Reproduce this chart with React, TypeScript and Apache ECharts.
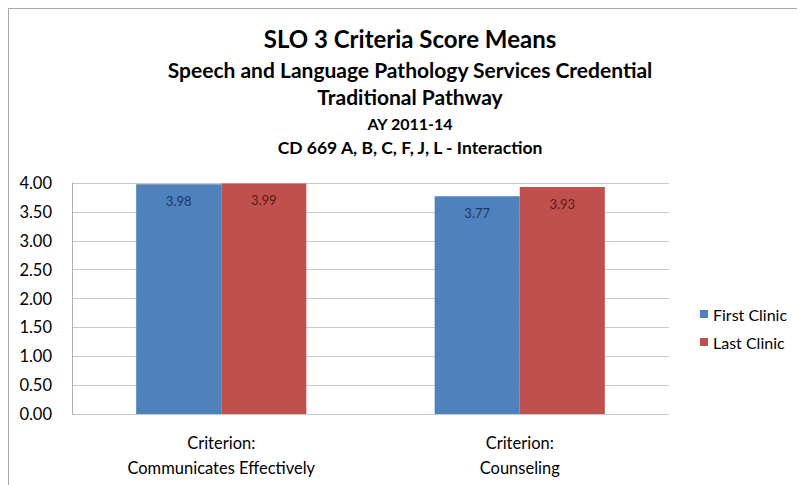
import React, { useEffect, useRef } from "react";
import * as echarts from "echarts";

const categories = ["Criterion:\nCommunicates Effectively", "Criterion:\nCounseling"];
const firstClinic = [3.98, 3.77];
const lastClinic = [3.99, 3.93];
const seriesNames = ["First Clinic", "Last Clinic"];
const titleLines = [
  "SLO 3 Criteria Score Means",
  "Speech and Language Pathology Services Credential",
  "Traditional Pathway",
  "AY 2011-14",
  "CD 669 A, B, C, F, J, L - Interaction",
];

const FONT = "Lato, 'Open Sans', sans-serif";

export default function App() {
  const ref = useRef<HTMLDivElement>(null);
  useEffect(() => {
    if (!ref.current) return;
    const chart = echarts.init(ref.current, undefined, { renderer: "svg" });
    const titleStyle = [
      { y: 30, size: 24 },
      { y: 61, size: 21 },
      { y: 88, size: 21 },
      { y: 115, size: 16 },
      { y: 139, size: 17.5 },
    ];
    chart.setOption({
      animation: false,
      backgroundColor: "#ffffff",
      textStyle: { fontFamily: FONT },
      graphic: [
        {
          type: "line",
          shape: { x1: 0.5, y1: 0.5, x2: 797, y2: 0.5 },
          style: { stroke: "#a8a8a8", lineWidth: 1 },
          silent: true,
        },
        {
          type: "line",
          shape: { x1: 0.5, y1: 0.5, x2: 0.5, y2: 477 },
          style: { stroke: "#a8a8a8", lineWidth: 1 },
          silent: true,
        },
        ...titleLines.map((t, i) => ({
          type: "text",
          x: 402,
          y: titleStyle[i].y,
          style: {
            text: t,
            fontFamily: FONT,
            fontWeight: "bold",
            fontSize: titleStyle[i].size,
            fill: "#000",
            textAlign: "center",
            textVerticalAlign: "middle",
          },
        })),
      ],
      legend: {
        orient: "vertical",
        left: 687,
        top: 293,
        itemWidth: 8,
        itemHeight: 8,
        itemGap: 12,
        icon: "rect",
        textStyle: { fontFamily: FONT, fontSize: 16, color: "#000" },
        data: seriesNames,
      },
      grid: { left: 64, right: 136, top: 175, bottom: 71 },
      xAxis: {
        type: "category",
        data: categories,
        axisTick: { show: false },
        axisLine: { show: false },
        axisLabel: {
          fontFamily: FONT,
          fontSize: 16.5,
          color: "#000",
          lineHeight: 25,
          margin: 16,
        },
      },
      yAxis: {
        type: "value",
        min: 0,
        max: 4,
        interval: 0.5,
        axisLine: { show: true, lineStyle: { color: "#b0b0b0" } },
        axisTick: { show: false },
        splitLine: { lineStyle: { color: "#c8c8c8" } },
        axisLabel: {
          fontFamily: FONT,
          fontSize: 16.5,
          color: "#000",
          margin: 20,
          formatter: (v: number) => v.toFixed(2),
        },
      },
      series: [
        {
          name: seriesNames[0],
          type: "bar",
          data: firstClinic,
          barCategoryGap: "43%",
          barGap: "0%",
          itemStyle: { color: "#4f81bd" },
          label: {
            show: true,
            position: "insideTop",
            distance: 10,
            fontFamily: FONT,
            fontSize: 13,
            color: "#1f3763",
            formatter: (p: any) => p.value.toFixed(2),
          },
        },
        {
          name: seriesNames[1],
          type: "bar",
          data: lastClinic,
          itemStyle: { color: "#c0504d" },
          label: {
            show: true,
            position: "insideTop",
            distance: 10,
            fontFamily: FONT,
            fontSize: 13,
            color: "#5a1a18",
            formatter: (p: any) => p.value.toFixed(2),
          },
        },
      ],
    });
    return () => chart.dispose();
  }, []);
  return <div ref={ref} style={{ width: 797, height: 477 }} />;
}
